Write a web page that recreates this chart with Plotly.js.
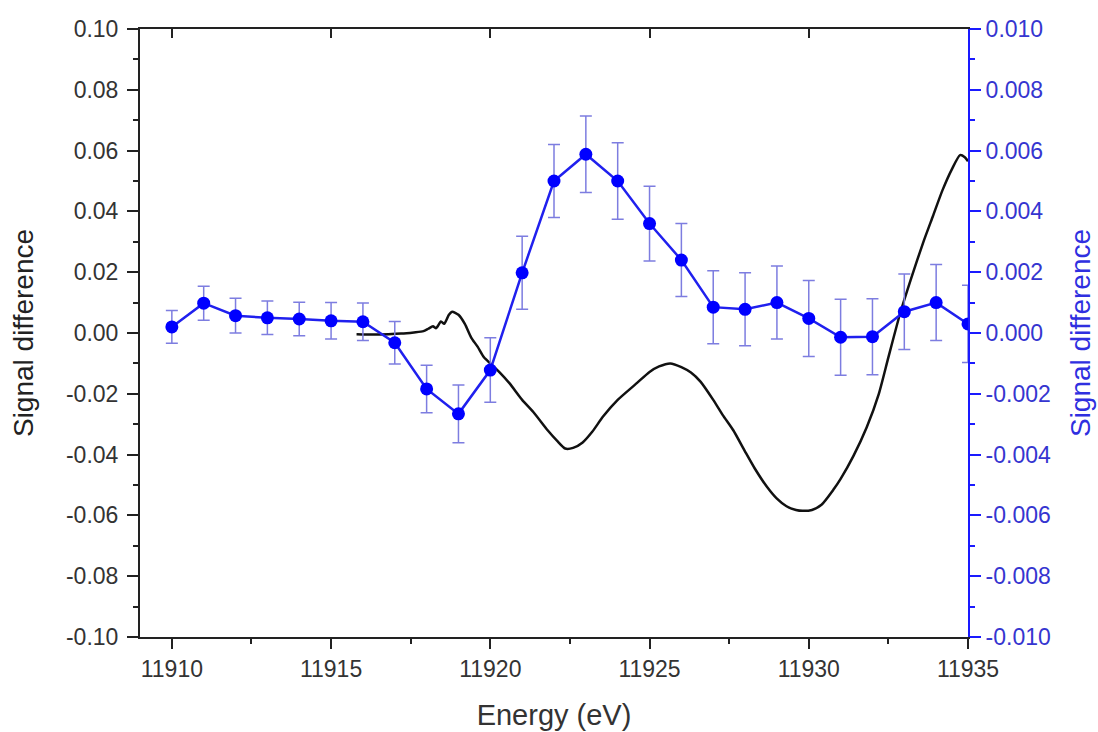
<!DOCTYPE html>
<html>
<head>
<meta charset="utf-8">
<script src="https://cdn.plot.ly/plotly-3.0.1.min.js"></script>
<style>html,body{margin:0;padding:0;background:#fff;}#chart{width:1098px;height:732px;}</style>
</head>
<body>
<div id="chart"></div>
<script>
// Black curve (left axis)
const curveEnergy = [11915.8,11916.3,11916.8,11917.2,11917.6,11917.9,11918.05,11918.2,11918.3,11918.45,11918.55,11918.7,11918.8,11919.0,11919.2,11919.4,11919.6,11919.8,11920.0,11920.3,11920.6,11921.0,11921.35,11921.8,11922.1,11922.35,11922.6,11922.9,11923.2,11923.54,11924.0,11924.6,11925.0,11925.3,11925.65,11926.0,11926.3,11926.6,11927.0,11927.3,11927.63,11928.0,11928.3,11928.68,11929.0,11929.3,11929.6,11929.8,11930.1,11930.4,11930.77,11931.0,11931.4,11931.82,11932.2,11932.5,11932.87,11933.2,11933.6,11933.9,11934.2,11934.5,11934.75,11934.9,11935.0];
const curveSignal = [-0.0004,-0.0005,-0.0004,-0.0002,0.0002,0.0006,0.0014,0.0022,0.0016,0.0038,0.0030,0.0060,0.0070,0.0060,0.0030,-0.0015,-0.0045,-0.0080,-0.0100,-0.0130,-0.0165,-0.0220,-0.0260,-0.0320,-0.0355,-0.0380,-0.0378,-0.0360,-0.0325,-0.0275,-0.0220,-0.0165,-0.0128,-0.0110,-0.0100,-0.0112,-0.0130,-0.0160,-0.0220,-0.0270,-0.0320,-0.0390,-0.0445,-0.0505,-0.0545,-0.0570,-0.0582,-0.0585,-0.0582,-0.0565,-0.0516,-0.0480,-0.0405,-0.0310,-0.0200,-0.0080,0.0065,0.0175,0.0300,0.0385,0.0470,0.0540,0.0585,0.0578,0.0565];

// Blue points with error bars (right axis)
const pointEnergy = [11910,11911,11912,11913,11914,11915,11916,11917,11918,11919,11920,11921,11922,11923,11924,11925,11926,11927,11928,11929,11930,11931,11932,11933,11934,11935];
const pointSignal = [0.0002,0.00098,0.00057,0.0005,0.00046,0.0004,0.00037,-0.00032,-0.00184,-0.00266,-0.00122,0.00198,0.005,0.00588,0.005,0.0036,0.0024,0.00085,0.00078,0.001,0.00048,-0.00014,-0.00012,0.0007,0.001,0.0003];
const pointError = [0.00054,0.00056,0.00057,0.00055,0.00055,0.0006,0.00062,0.0007,0.00078,0.00095,0.00106,0.0012,0.0012,0.00126,0.00126,0.00123,0.0012,0.0012,0.0012,0.0012,0.00125,0.00125,0.00125,0.00124,0.00125,0.00127];

// Tick labels
const leftTickVals = [-0.10,-0.08,-0.06,-0.04,-0.02,0,0.02,0.04,0.06,0.08,0.10];
const leftTickText = ["-0.10","-0.08","-0.06","-0.04","-0.02","0.00","0.02","0.04","0.06","0.08","0.10"];
const rightTickVals = [-0.010,-0.008,-0.006,-0.004,-0.002,0,0.002,0.004,0.006,0.008,0.010];
const rightTickText = ["-0.010","-0.008","-0.006","-0.004","-0.002","0.000","0.002","0.004","0.006","0.008","0.010"];
const xTickVals = [11910,11915,11920,11925,11930,11935];
const xTickText = ["11910","11915","11920","11925","11930","11935"];

const FONT = 'Liberation Sans, Arial, sans-serif';
const BLUE = '#1a1aff';

const traces = [
  {
    x: curveEnergy, y: curveSignal, type: 'scatter', mode: 'lines',
    line: {color: '#111111', width: 2.5, shape: 'spline', smoothing: 0.6},
    xaxis: 'x', yaxis: 'y', hoverinfo: 'skip'
  },
  {
    x: pointEnergy, y: pointSignal, type: 'scatter', mode: 'lines+markers',
    line: {color: '#2020ee', width: 2.5},
    marker: {color: '#0000ff', size: 13},
    error_y: {type: 'data', array: pointError, visible: true, color: '#7d7de0', thickness: 1.5, width: 6},
    xaxis: 'x', yaxis: 'y2'
  },
  {
    x: [11909, 11935], y: [0, 0], type: 'scatter', mode: 'none',
    xaxis: 'x2', yaxis: 'y', hoverinfo: 'skip'
  }
];

const layout = {
  width: 1098, height: 732,
  margin: {l: 140, r: 130, t: 29, b: 95},
  paper_bgcolor: '#ffffff', plot_bgcolor: '#ffffff',
  showlegend: false,
  font: {family: FONT, size: 23, color: '#333333'},
  xaxis: {
    range: [11909, 11935], tickvals: xTickVals, ticktext: xTickText, ticks: 'outside', ticklen: 10, tickwidth: 2, tickcolor: '#222',
    showline: true, linecolor: '#222', linewidth: 2, showgrid: false, zeroline: false,
    minor: {dtick: 2.5, ticks: 'outside', ticklen: 5, tickwidth: 2, tickcolor: '#222', showgrid: false},
    tickfont: {family: FONT, size: 23, color: '#333'},
    title: {text: 'Energy (eV)', font: {family: FONT, size: 29, color: '#333'}, standoff: 24}
  },
  xaxis2: {
    overlaying: 'x', side: 'top', range: [11909, 11935], tickvals: xTickVals,
    ticks: 'inside', ticklen: 9, tickwidth: 2, tickcolor: '#222', showticklabels: false,
    showline: true, linecolor: '#222', linewidth: 2, showgrid: false, zeroline: false
  },
  yaxis: {
    range: [-0.1, 0.1], tickvals: leftTickVals, ticktext: leftTickText,
    ticks: 'outside', ticklen: 11, tickwidth: 2, tickcolor: '#222', ticklabelstandoff: 4,
    showline: true, linecolor: '#222', linewidth: 2, showgrid: false, zeroline: false,
    minor: {dtick: 0.01, ticks: 'outside', ticklen: 5, tickwidth: 2, tickcolor: '#222', showgrid: false},
    tickfont: {family: FONT, size: 23, color: '#333'},
    title: {text: 'Signal difference', font: {family: FONT, size: 28, color: '#222'}, standoff: 24}
  },
  yaxis2: {
    overlaying: 'y', side: 'right', range: [-0.01, 0.01], tickvals: rightTickVals, ticktext: rightTickText,
    ticks: 'outside', ticklen: 11, tickwidth: 2, tickcolor: BLUE,
    showline: true, linecolor: BLUE, linewidth: 2, showgrid: false, zeroline: false,
    minor: {dtick: 0.001, ticks: 'outside', ticklen: 5, tickwidth: 2, tickcolor: BLUE, showgrid: false},
    tickfont: {family: FONT, size: 23, color: '#3535d0'},
    title: {text: 'Signal difference', font: {family: FONT, size: 28, color: '#2f2fe0'}, standoff: 20}
  }
};

Plotly.newPlot('chart', traces, layout, {displayModeBar: false, staticPlot: true});
</script>
</body>
</html>
